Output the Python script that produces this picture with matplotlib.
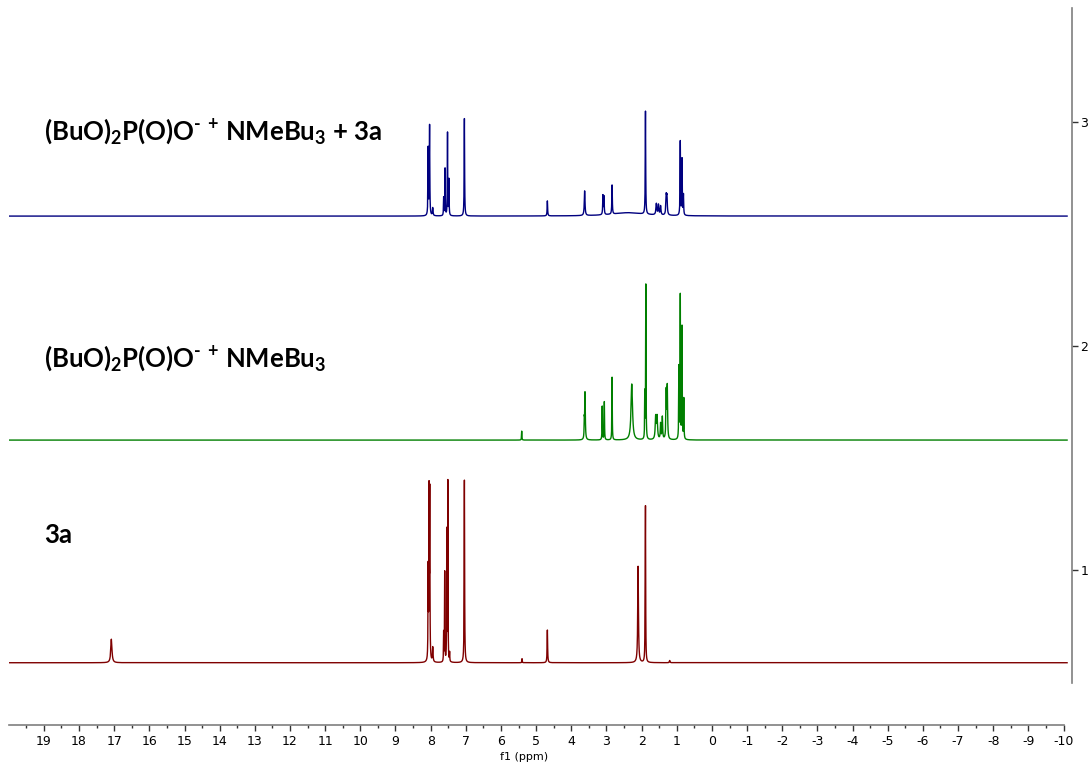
import numpy as np
import matplotlib
matplotlib.use("Agg")
import matplotlib.pyplot as plt
from matplotlib.ticker import FixedLocator

plt.rcParams['mathtext.fontset'] = 'custom'
plt.rcParams['mathtext.rm'] = 'Lato:bold'
plt.rcParams['mathtext.it'] = 'Lato:bold'
plt.rcParams['mathtext.bf'] = 'Lato:bold'

# ---- data: peak lists (ppm, height in offset units, half-width ppm) ----
labels = [r"(BuO)$_2$P(O)O$^{\text{-}}$ $^{+}$ NMeBu$_3$ + 3a",
          r"(BuO)$_2$P(O)O$^{\text{-}}$ $^{+}$ NMeBu$_3$",
          "3a"]
offsets = [2.58, 1.58, 0.586]
colors = ["#00007F", "#007F00", "#7F0000"]

blue_ppm = [8.07, 8.03, 7.94, 7.63, 7.59, 7.52, 7.48, 7.04, 4.68, 3.62,
            3.10, 3.07, 2.84, 2.38, 1.89, 1.58, 1.52, 1.46, 1.30, 1.28,
            0.90, 0.85, 0.81]
blue_h = [0.30, 0.40, 0.035, 0.08, 0.21, 0.37, 0.16, 0.435, 0.067, 0.11,
          0.085, 0.08, 0.13, 0.015, 0.46, 0.05, 0.045, 0.04, 0.08, 0.075,
          0.33, 0.25, 0.09]
blue_w = [0.007, 0.007, 0.01, 0.006, 0.006, 0.006, 0.006, 0.007, 0.008, 0.012,
          0.008, 0.008, 0.008, 0.55, 0.007, 0.015, 0.012, 0.012, 0.012, 0.012,
          0.007, 0.007, 0.007]

green_ppm = [5.41, 3.63, 3.61, 3.12, 3.06, 2.84, 2.28, 1.91, 1.88, 1.60,
             1.56, 1.46, 1.41, 1.30, 1.27, 0.94, 0.90, 0.85, 0.80]
green_h = [0.04, 0.07, 0.21, 0.15, 0.17, 0.28, 0.25, 0.2, 0.69, 0.1,
           0.1, 0.07, 0.1, 0.21, 0.23, 0.32, 0.64, 0.5, 0.18]
green_w = [0.006, 0.006, 0.01, 0.006, 0.006, 0.006, 0.025, 0.005, 0.006, 0.015,
           0.015, 0.01, 0.01, 0.01, 0.01, 0.006, 0.006, 0.006, 0.006]

red_ppm = [17.08, 8.07, 8.045, 8.025, 7.94, 7.63, 7.60, 7.54, 7.51, 7.46,
           7.04, 5.40, 4.68, 2.10, 1.90, 1.89, 1.20]
red_h = [0.105, 0.40, 0.73, 0.73, 0.065, 0.13, 0.40, 0.58, 0.80, 0.04,
         0.815, 0.018, 0.146, 0.43, 0.2, 0.66, 0.01]
red_w = [0.02, 0.006, 0.006, 0.006, 0.01, 0.005, 0.005, 0.005, 0.005, 0.005,
         0.007, 0.006, 0.008, 0.012, 0.005, 0.006, 0.01]

x_ticks = list(range(-10, 20))
y_ticks = [1, 2, 3]


def spectrum(ppm_axis, centers, heights, widths):
    y = np.zeros_like(ppm_axis)
    for c, h, w in zip(centers, heights, widths):
        y += h / (1.0 + ((ppm_axis - c) / w) ** 2)
    return y


fig = plt.figure(figsize=(10.92, 7.64), dpi=100)
W, H = 1092.0, 764.0
ax = fig.add_axes([8.7 / W, (H - 725) / H, (1072 - 8.7) / W, (725 - 8) / H])

ppm = np.arange(-10.1, 20.0, 0.001)
peaksets = [(blue_ppm, blue_h, blue_w), (green_ppm, green_h, green_w),
            (red_ppm, red_h, red_w)]
for (c, h, w), off, col in zip(peaksets, offsets, colors):
    ax.plot(ppm, off + spectrum(ppm, c, h, w), color=col, lw=1.0)

ax.set_xlim(20, -10.24)
ax.set_ylim(0.308, 3.509)

for s in ['left', 'top']:
    ax.spines[s].set_visible(False)
ax.spines['bottom'].set_bounds(-10, 20)
ax.spines['right'].set_bounds(0.4955, 3.509)
for s in ['bottom', 'right']:
    ax.spines[s].set_color('#7f7f7f')
    ax.spines[s].set_linewidth(1.2)

ax.xaxis.set_major_locator(FixedLocator(x_ticks))
ax.xaxis.set_minor_locator(FixedLocator([t + 0.5 for t in x_ticks[:-1]] + [19.5]))
ax.set_xticklabels([str(t) for t in x_ticks])
ax.tick_params(axis='x', which='major', direction='out', length=4.5, width=1,
               color='#333333', labelsize=9, pad=3)
ax.tick_params(axis='x', which='minor', direction='out', length=2.5, width=1,
               color='#333333')
ax.yaxis.tick_right()
ax.yaxis.set_major_locator(FixedLocator(y_ticks))
ax.set_yticklabels([str(t) for t in y_ticks])
ax.tick_params(axis='y', which='major', direction='out', length=4, width=1,
               color='#333333', labelsize=9, pad=2)
ax.set_xlabel('f1 (ppm)', fontsize=8, labelpad=0)
ax.xaxis.set_label_coords(0.485, -0.038)

label_y = [131, 358, 535]
for lab, yy in zip(labels, label_y):
    fig.text(44 / W, 1 - yy / H, lab, fontsize=18.5, fontfamily='Lato',
             fontweight='bold', va='center', ha='left')

fig.savefig('out.png', dpi=100)
